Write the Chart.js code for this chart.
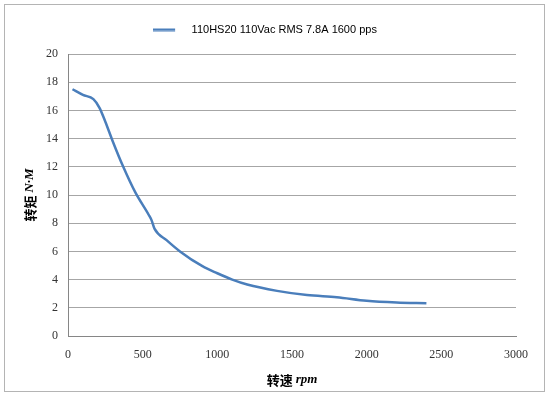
<!DOCTYPE html>
<html>
<head>
<meta charset="utf-8">
<script src="https://cdn.jsdelivr.net/npm/chart.js@4/dist/chart.umd.min.js"></script>
<style>
    html, body { margin: 0; padding: 0; background: #fff; }
    #wrap { position: relative; width: 551px; height: 398px; }
    #frame { position: absolute; left: 4px; top: 4px; width: 539px; height: 386px; border: 1px solid #b4b4b4; pointer-events: none; }
    canvas { position: absolute; left: 0; top: 0; }
</style>
</head>
<body>
<div id="wrap">
    <canvas id="torqueChart" width="551" height="398"></canvas>
    <div id="frame"></div>
</div>
<script>
// 110HS20 torque / speed curve
const seriesName = '110HS20 110Vac RMS 7.8A 1600 pps';
const speedRpm = [30, 100, 170, 210, 250, 300, 370, 450, 540, 560, 580, 660, 750, 900, 1000, 1100, 1200, 1400, 1600, 1800, 2000, 2200, 2400];
const torqueNm = [17.5, 17.1, 16.8, 16.2, 15.2, 13.8, 12.0, 10.2, 8.6, 8.2, 7.6, 6.8, 6.0, 4.95, 4.45, 4.0, 3.65, 3.2, 2.9, 2.75, 2.5, 2.38, 2.33];
const xTicks = [0, 500, 1000, 1500, 2000, 2500, 3000];
const yTicks = [0, 2, 4, 6, 8, 10, 12, 14, 16, 18, 20];

const lineColor = '#4a7ebb';
const tickFont = { family: '"Liberation Serif", "Times New Roman", serif', size: 12 };

// legend marker: short line with empty space after it
const legendMark = document.createElement('canvas');
legendMark.width = 33;
legendMark.height = 4;
(function() {
    const c = legendMark.getContext('2d');
    c.fillStyle = lineColor;
    c.fillRect(0, 1, 22, 2.5);
})();

// nudge the legend up/right so the plot can start lower
const legendShift = {
    id: 'legendShift',
    afterLayout(chart) {
        if (chart.legend) {
            chart.legend.top -= 9;
            chart.legend.bottom -= 9;
            chart.legend.left += 7;
            chart.legend.right += 7;
        }
    }
};

// axis titles: bold CJK + italic latin unit
const axisTitles = {
    id: 'axisTitles',
    afterDraw(chart) {
        const ctx = chart.ctx;
        const area = chart.chartArea;
        const cjk = 'bold 13px "Noto Sans CJK SC", sans-serif';
        const unit = 'italic bold 13px "Liberation Serif", serif';

        function drawParts(parts, cx, cy, rotate) {
            ctx.save();
            ctx.translate(cx, cy);
            if (rotate) ctx.rotate(-Math.PI / 2);
            ctx.fillStyle = '#000';
            ctx.textBaseline = 'middle';
            ctx.textAlign = 'left';
            let total = 0;
            parts.forEach(p => { ctx.font = p.font; total += ctx.measureText(p.text).width; });
            let x = -total / 2;
            parts.forEach(p => {
                ctx.font = p.font;
                ctx.fillText(p.text, x, 0);
                x += ctx.measureText(p.text).width;
            });
            ctx.restore();
        }

        drawParts([{ text: '转速 ', font: cjk }, { text: 'rpm', font: unit }],
            (area.left + area.right) / 2, 380, false);
        drawParts([{ text: '转矩 ', font: cjk }, { text: 'N·M', font: unit }],
            30, (area.top + area.bottom) / 2, true);
    }
};

new Chart(document.getElementById('torqueChart'), {
    type: 'scatter',
    data: {
        datasets: [{
            label: seriesName,
            data: speedRpm.map((s, i) => ({ x: s, y: torqueNm[i] })),
            showLine: true,
            borderColor: lineColor,
            backgroundColor: lineColor,
            borderWidth: 2.5,
            pointRadius: 0,
            pointStyle: legendMark,
            cubicInterpolationMode: 'monotone'
        }]
    },
    options: {
        responsive: false,
        animation: false,
        layout: { padding: { left: 0, right: 35, top: 23, bottom: 0 } },
        plugins: {
            legend: {
                position: 'top',
                labels: {
                    usePointStyle: true,
                    pointStyleWidth: 33,
                    padding: 10,
                    color: '#000',
                    font: { family: '"Liberation Sans", Arial, sans-serif', size: 11 }
                }
            },
            tooltip: { enabled: false }
        },
        scales: {
            x: {
                type: 'linear',
                min: 0,
                max: 3000,
                afterBuildTicks: scale => { scale.ticks = xTicks.map(v => ({ value: v })); },
                afterFit: scale => { scale.height = 62; },
                grid: { display: false, drawTicks: false },
                border: { display: true, color: '#868686', width: 1 },
                ticks: { color: '#333', font: tickFont, padding: 12, maxRotation: 0, callback: v => String(v) }
            },
            y: {
                type: 'linear',
                min: 0,
                max: 20,
                afterBuildTicks: scale => { scale.ticks = yTicks.map(v => ({ value: v })); },
                afterFit: scale => { scale.width = 68; },
                grid: { color: '#a6a6a6', lineWidth: 1, drawTicks: false },
                border: { display: true, color: '#868686', width: 1 },
                ticks: { color: '#333', font: tickFont, padding: 10 }
            }
        }
    },
    plugins: [legendShift, axisTitles]
});
</script>
</body>
</html>
